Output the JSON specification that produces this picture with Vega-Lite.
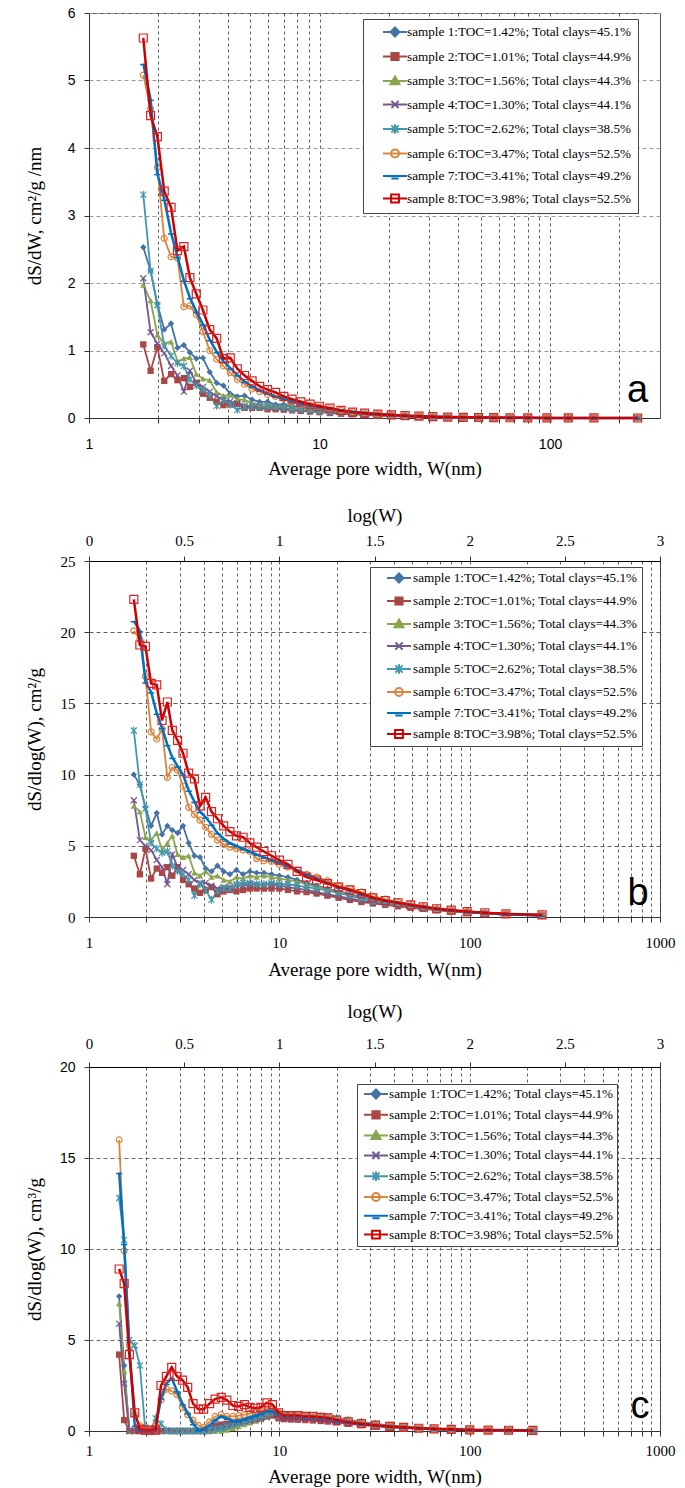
{
"$schema": "https://vega.github.io/schema/vega-lite/v6.json",
"padding": {"left": 24, "top": 5, "right": 20, "bottom": 0},
"spacing": 26,
"config": {
  "view": {"stroke": "#555"},
  "axis": {"labelColor": "#000", "titleColor": "#000", "titleFontWeight": "normal", "domainColor": "#333", "tickColor": "#333", "titleFont": "Liberation Serif", "titleFontSize": 19, "labelFont": "Liberation Serif", "labelFontSize": 15}
},
"datasets": {
"a": [
{"w":1.72,"s1":2.53,"s2":1.09,"s3":1.97,"s4":2.07,"s5":3.31,"s6":5.08,"s7":5.25,"s8":5.63},
{"w":1.85,"s1":2.18,"s2":0.70,"s3":1.74,"s4":1.27,"s5":2.18,"s6":4.58,"s7":4.72,"s8":4.48},
{"w":1.98,"s1":1.69,"s2":1.05,"s3":1.23,"s4":1.10,"s5":1.67,"s6":3.71,"s7":3.62,"s8":4.17},
{"w":2.12,"s1":1.31,"s2":0.55,"s3":1.11,"s4":0.96,"s5":1.07,"s6":2.66,"s7":3.24,"s8":3.36},
{"w":2.27,"s1":1.40,"s2":0.65,"s3":1.13,"s4":0.77,"s5":0.92,"s6":2.39,"s7":2.74,"s8":3.12},
{"w":2.42,"s1":1.04,"s2":0.56,"s3":0.84,"s4":0.63,"s5":0.81,"s6":2.37,"s7":2.39,"s8":2.48},
{"w":2.58,"s1":1.08,"s2":0.59,"s3":0.88,"s4":0.39,"s5":0.77,"s6":1.65,"s7":2.04,"s8":2.54},
{"w":2.74,"s1":0.97,"s2":0.46,"s3":0.90,"s4":0.70,"s5":0.57,"s6":1.66,"s7":1.78,"s8":2.08},
{"w":2.92,"s1":0.88,"s2":0.52,"s3":0.65,"s4":0.52,"s5":0.48,"s6":1.53,"s7":1.58,"s8":1.84},
{"w":3.12,"s1":0.89,"s2":0.36,"s3":0.58,"s4":0.46,"s5":0.42,"s6":1.28,"s7":1.39,"s8":1.60},
{"w":3.34,"s1":0.68,"s2":0.30,"s3":0.56,"s4":0.39,"s5":0.34,"s6":1.00,"s7":1.16,"s8":1.31},
{"w":3.58,"s1":0.52,"s2":0.24,"s3":0.38,"s4":0.32,"s5":0.18,"s6":0.87,"s7":0.98,"s8":1.18},
{"w":3.83,"s1":0.48,"s2":0.19,"s3":0.33,"s4":0.27,"s5":0.26,"s6":0.77,"s7":0.84,"s8":0.88},
{"w":4.1,"s1":0.36,"s2":0.20,"s3":0.34,"s4":0.25,"s5":0.20,"s6":0.67,"s7":0.74,"s8":0.89},
{"w":4.4,"s1":0.32,"s2":0.21,"s3":0.28,"s4":0.22,"s5":0.12,"s6":0.57,"s7":0.64,"s8":0.73},
{"w":4.73,"s1":0.33,"s2":0.15,"s3":0.27,"s4":0.18,"s5":0.165,"s6":0.50,"s7":0.54,"s8":0.63},
{"w":5.1,"s1":0.27,"s2":0.15,"s3":0.22,"s4":0.18,"s5":0.17,"s6":0.43,"s7":0.47,"s8":0.55},
{"w":5.5,"s1":0.24,"s2":0.15,"s3":0.20,"s4":0.17,"s5":0.16,"s6":0.39,"s7":0.41,"s8":0.47},
{"w":5.95,"s1":0.24,"s2":0.13,"s3":0.20,"s4":0.16,"s5":0.17,"s6":0.35,"s7":0.365,"s8":0.42},
{"w":6.45,"s1":0.20,"s2":0.13,"s3":0.18,"s4":0.15,"s5":0.16,"s6":0.32,"s7":0.32,"s8":0.38},
{"w":7.0,"s1":0.20,"s2":0.124,"s3":0.18,"s4":0.14,"s5":0.15,"s6":0.285,"s7":0.285,"s8":0.32},
{"w":7.6,"s1":0.18,"s2":0.114,"s3":0.16,"s4":0.13,"s5":0.13,"s6":0.234,"s7":0.25,"s8":0.28},
{"w":8.3,"s1":0.16,"s2":0.105,"s3":0.15,"s4":0.12,"s5":0.12,"s6":0.207,"s7":0.22,"s8":0.24},
{"w":9.1,"s1":0.143,"s2":0.095,"s3":0.134,"s4":0.11,"s5":0.115,"s6":0.186,"s7":0.19,"s8":0.205},
{"w":10,"s1":0.126,"s2":0.087,"s3":0.117,"s4":0.095,"s5":0.10,"s6":0.161,"s7":0.165,"s8":0.174},
{"w":11.1,"s1":0.11,"s2":0.074,"s3":0.102,"s4":0.082,"s5":0.09,"s6":0.137,"s7":0.141,"s8":0.145},
{"w":12.4,"s1":0.091,"s2":0.063,"s3":0.088,"s4":0.07,"s5":0.077,"s6":0.116,"s7":0.116,"s8":0.112},
{"w":13.9,"s1":0.075,"s2":0.055,"s3":0.072,"s4":0.059,"s5":0.066,"s6":0.094,"s7":0.094,"s8":0.087},
{"w":15.7,"s1":0.061,"s2":0.046,"s3":0.058,"s4":0.048,"s5":0.055,"s6":0.078,"s7":0.075,"s8":0.072},
{"w":17.9,"s1":0.049,"s2":0.036,"s3":0.047,"s4":0.039,"s5":0.045,"s6":0.062,"s7":0.058,"s8":0.057},
{"w":20.5,"s1":0.038,"s2":0.029,"s3":0.037,"s4":0.031,"s5":0.036,"s6":0.047,"s7":0.045,"s8":0.045},
{"w":23.5,"s1":0.030,"s2":0.022,"s3":0.029,"s4":0.024,"s5":0.028,"s6":0.037,"s7":0.035,"s8":0.035},
{"w":27,"s1":0.023,"s2":0.017,"s3":0.022,"s4":0.019,"s5":0.021,"s6":0.028,"s7":0.026,"s8":0.027},
{"w":31,"s1":0.017,"s2":0.013,"s3":0.016,"s4":0.014,"s5":0.015,"s6":0.020,"s7":0.019,"s8":0.019},
{"w":36,"s1":0.013,"s2":0.010,"s3":0.012,"s4":0.011,"s5":0.011,"s6":0.015,"s7":0.014,"s8":0.014},
{"w":42,"s1":0.0098,"s2":0.0078,"s3":0.0093,"s4":0.0083,"s5":0.0088,"s6":0.011,"s7":0.010,"s8":0.010},
{"w":49,"s1":0.0075,"s2":0.0058,"s3":0.0071,"s4":0.0062,"s5":0.0066,"s6":0.008,"s7":0.0075,"s8":0.0075},
{"w":57,"s1":0.0053,"s2":0.0043,"s3":0.0051,"s4":0.0046,"s5":0.0048,"s6":0.0057,"s7":0.0053,"s8":0.0055},
{"w":67,"s1":0.0038,"s2":0.0031,"s3":0.0036,"s4":0.0032,"s5":0.0034,"s6":0.0039,"s7":0.0037,"s8":0.0038},
{"w":80,"s1":0.0026,"s2":0.0022,"s3":0.0024,"s4":0.0022,"s5":0.0023,"s6":0.0027,"s7":0.0025,"s8":0.0026},
{"w":97,"s1":0.0017,"s2":0.0014,"s3":0.0016,"s4":0.0014,"s5":0.0015,"s6":0.0018,"s7":0.0016,"s8":0.0017},
{"w":120,"s1":0.001,"s2":0.0009,"s3":0.001,"s4":0.0009,"s5":0.0009,"s6":0.0011,"s7":0.001,"s8":0.0011},
{"w":155,"s1":0.0006,"s2":0.0004,"s3":0.0005,"s4":0.0005,"s5":0.0005,"s6":0.0006,"s7":0.0006,"s8":0.0006},
{"w":240,"s1":0.0002,"s2":0.0002,"s3":0.0002,"s4":0.0002,"s5":0.0002,"s6":0.0003,"s7":0.0002,"s8":0.0003}
],
"b": [
{"w":1.72,"s1":10.0,"s2":4.3,"s3":7.8,"s4":8.2,"s5":13.1,"s6":20.1,"s7":20.8,"s8":22.3},
{"w":1.85,"s1":9.3,"s2":3.0,"s3":7.4,"s4":5.4,"s5":9.3,"s6":19.5,"s7":20.1,"s8":19.1},
{"w":1.98,"s1":7.7,"s2":4.8,"s3":5.6,"s4":5.0,"s5":7.6,"s6":16.9,"s7":16.5,"s8":19.0},
{"w":2.12,"s1":6.4,"s2":2.7,"s3":5.4,"s4":4.7,"s5":5.2,"s6":13.0,"s7":15.8,"s8":16.4},
{"w":2.27,"s1":7.3,"s2":3.4,"s3":5.9,"s4":4.0,"s5":4.8,"s6":12.5,"s7":14.3,"s8":16.3},
{"w":2.42,"s1":5.8,"s2":3.1,"s3":4.7,"s4":3.5,"s5":4.5,"s6":13.2,"s7":13.3,"s8":13.8},
{"w":2.58,"s1":6.4,"s2":3.5,"s3":5.2,"s4":2.3,"s5":4.6,"s6":9.8,"s7":12.1,"s8":15.1},
{"w":2.74,"s1":6.1,"s2":2.9,"s3":5.7,"s4":4.4,"s5":3.6,"s6":10.5,"s7":11.2,"s8":13.1},
{"w":2.92,"s1":5.9,"s2":3.5,"s3":4.4,"s4":3.5,"s5":3.2,"s6":10.3,"s7":10.6,"s8":12.4},
{"w":3.12,"s1":6.4,"s2":2.6,"s3":4.2,"s4":3.3,"s5":3.0,"s6":9.2,"s7":10.0,"s8":11.5},
{"w":3.34,"s1":5.2,"s2":2.3,"s3":4.3,"s4":3.0,"s5":2.6,"s6":7.7,"s7":8.9,"s8":10.1},
{"w":3.58,"s1":4.3,"s2":2.0,"s3":3.1,"s4":2.6,"s5":1.5,"s6":7.2,"s7":8.1,"s8":9.7},
{"w":3.83,"s1":4.2,"s2":1.7,"s3":2.9,"s4":2.4,"s5":2.3,"s6":6.8,"s7":7.4,"s8":7.8},
{"w":4.1,"s1":3.4,"s2":1.9,"s3":3.2,"s4":2.4,"s5":1.9,"s6":6.3,"s7":7.0,"s8":8.4},
{"w":4.4,"s1":3.2,"s2":2.1,"s3":2.8,"s4":2.2,"s5":1.2,"s6":5.8,"s7":6.5,"s8":7.4},
{"w":4.73,"s1":3.6,"s2":1.6,"s3":2.9,"s4":2.0,"s5":1.8,"s6":5.4,"s7":5.9,"s8":6.9},
{"w":5.1,"s1":3.2,"s2":1.8,"s3":2.6,"s4":2.1,"s5":2.0,"s6":5.1,"s7":5.5,"s8":6.4},
{"w":5.5,"s1":3.0,"s2":1.9,"s3":2.5,"s4":2.1,"s5":2.0,"s6":4.9,"s7":5.2,"s8":6.0},
{"w":5.95,"s1":3.3,"s2":1.8,"s3":2.8,"s4":2.2,"s5":2.3,"s6":4.8,"s7":5.0,"s8":5.7},
{"w":6.45,"s1":3.0,"s2":1.9,"s3":2.7,"s4":2.2,"s5":2.4,"s6":4.7,"s7":4.8,"s8":5.6},
{"w":7.0,"s1":3.2,"s2":2.0,"s3":2.9,"s4":2.3,"s5":2.4,"s6":4.6,"s7":4.6,"s8":5.2},
{"w":7.6,"s1":3.1,"s2":2.0,"s3":2.8,"s4":2.3,"s5":2.3,"s6":4.1,"s7":4.4,"s8":4.9},
{"w":8.3,"s1":3.1,"s2":2.0,"s3":2.9,"s4":2.3,"s5":2.3,"s6":3.95,"s7":4.2,"s8":4.6},
{"w":9.1,"s1":3.0,"s2":2.0,"s3":2.8,"s4":2.3,"s5":2.4,"s6":3.9,"s7":4.0,"s8":4.3},
{"w":10,"s1":2.9,"s2":2.0,"s3":2.7,"s4":2.2,"s5":2.3,"s6":3.7,"s7":3.8,"s8":4.0},
{"w":11.1,"s1":2.8,"s2":1.9,"s3":2.6,"s4":2.1,"s5":2.3,"s6":3.5,"s7":3.6,"s8":3.7},
{"w":12.4,"s1":2.6,"s2":1.8,"s3":2.5,"s4":2.0,"s5":2.2,"s6":3.3,"s7":3.3,"s8":3.2},
{"w":13.9,"s1":2.4,"s2":1.75,"s3":2.3,"s4":1.9,"s5":2.1,"s6":3.0,"s7":3.0,"s8":2.8},
{"w":15.7,"s1":2.2,"s2":1.65,"s3":2.1,"s4":1.75,"s5":2.0,"s6":2.8,"s7":2.7,"s8":2.6},
{"w":17.9,"s1":2.0,"s2":1.5,"s3":1.95,"s4":1.6,"s5":1.85,"s6":2.55,"s7":2.4,"s8":2.35},
{"w":20.5,"s1":1.8,"s2":1.35,"s3":1.75,"s4":1.45,"s5":1.7,"s6":2.2,"s7":2.1,"s8":2.1},
{"w":23.5,"s1":1.6,"s2":1.2,"s3":1.55,"s4":1.3,"s5":1.5,"s6":2.0,"s7":1.9,"s8":1.9},
{"w":27,"s1":1.4,"s2":1.05,"s3":1.35,"s4":1.15,"s5":1.3,"s6":1.75,"s7":1.6,"s8":1.65},
{"w":31,"s1":1.2,"s2":0.95,"s3":1.15,"s4":1.0,"s5":1.1,"s6":1.45,"s7":1.35,"s8":1.35},
{"w":36,"s1":1.05,"s2":0.85,"s3":1.0,"s4":0.9,"s5":0.95,"s6":1.25,"s7":1.15,"s8":1.15},
{"w":42,"s1":0.95,"s2":0.75,"s3":0.9,"s4":0.8,"s5":0.85,"s6":1.05,"s7":1.0,"s8":1.0},
{"w":49,"s1":0.85,"s2":0.65,"s3":0.8,"s4":0.7,"s5":0.75,"s6":0.9,"s7":0.85,"s8":0.85},
{"w":57,"s1":0.7,"s2":0.57,"s3":0.67,"s4":0.6,"s5":0.63,"s6":0.75,"s7":0.7,"s8":0.72},
{"w":67,"s1":0.58,"s2":0.48,"s3":0.55,"s4":0.5,"s5":0.52,"s6":0.6,"s7":0.57,"s8":0.58},
{"w":80,"s1":0.47,"s2":0.4,"s3":0.45,"s4":0.4,"s5":0.42,"s6":0.5,"s7":0.46,"s8":0.48},
{"w":97,"s1":0.37,"s2":0.32,"s3":0.35,"s4":0.32,"s5":0.33,"s6":0.4,"s7":0.36,"s8":0.38},
{"w":120,"s1":0.28,"s2":0.25,"s3":0.27,"s4":0.25,"s5":0.25,"s6":0.3,"s7":0.28,"s8":0.3},
{"w":155,"s1":0.2,"s2":0.15,"s3":0.18,"s4":0.17,"s5":0.18,"s6":0.22,"s7":0.2,"s8":0.22},
{"w":240,"s1":0.1,"s2":0.1,"s3":0.1,"s4":0.1,"s5":0.1,"s6":0.14,"s7":0.12,"s8":0.15}
],
"c": [
{"w":1.44,"s1":7.4,"s2":4.2,"s3":7.0,"s4":5.9,"s5":12.8,"s6":16.0,"s7":14.2,"s8":8.9},
{"w":1.53,"s1":3.6,"s2":0.6,"s3":3.3,"s4":2.6,"s5":10.5,"s6":9.9,"s7":10.3,"s8":8.1},
{"w":1.63,"s1":0,"s2":0,"s3":0,"s4":0,"s5":5.0,"s6":4.7,"s7":4.5,"s8":4.2},
{"w":1.74,"s1":0,"s2":0,"s3":0,"s4":0,"s5":4.7,"s6":0.9,"s7":0.3,"s8":1.0},
{"w":1.85,"s1":0,"s2":0,"s3":0,"s4":0,"s5":3.6,"s6":0.3,"s7":0,"s8":0.1},
{"w":1.97,"s1":0,"s2":0,"s3":0,"s4":0,"s5":0.2,"s6":0,"s7":0,"s8":0.05},
{"w":2.1,"s1":0,"s2":0,"s3":0,"s4":0,"s5":0,"s6":0,"s7":0,"s8":0.05},
{"w":2.24,"s1":0,"s2":0,"s3":0,"s4":0,"s5":0.7,"s6":0.3,"s7":0.2,"s8":0.05},
{"w":2.39,"s1":0,"s2":0,"s3":0,"s4":0,"s5":0.4,"s6":1.7,"s7":1.8,"s8":2.5},
{"w":2.55,"s1":0,"s2":0,"s3":0,"s4":0,"s5":0.05,"s6":2.3,"s7":2.6,"s8":3.0},
{"w":2.72,"s1":0,"s2":0,"s3":0,"s4":0,"s5":0,"s6":2.2,"s7":2.9,"s8":3.5},
{"w":2.9,"s1":0,"s2":0,"s3":0,"s4":0,"s5":0,"s6":2.0,"s7":2.2,"s8":3.0},
{"w":3.1,"s1":0,"s2":0,"s3":0,"s4":0,"s5":0,"s6":1.3,"s7":1.5,"s8":2.8},
{"w":3.3,"s1":0,"s2":0,"s3":0,"s4":0,"s5":0,"s6":0.9,"s7":1.0,"s8":2.4},
{"w":3.52,"s1":0,"s2":0,"s3":0,"s4":0,"s5":0,"s6":0.6,"s7":0.4,"s8":1.5},
{"w":3.76,"s1":0,"s2":0,"s3":0,"s4":0,"s5":0,"s6":0.3,"s7":0.05,"s8":1.2},
{"w":4.0,"s1":0,"s2":0,"s3":0,"s4":0,"s5":0,"s6":0.2,"s7":0.1,"s8":1.2},
{"w":4.3,"s1":0,"s2":0,"s3":0,"s4":0.05,"s5":0.05,"s6":0.5,"s7":0.3,"s8":1.5},
{"w":4.6,"s1":0,"s2":0.3,"s3":0,"s4":0.15,"s5":0.1,"s6":0.8,"s7":0.6,"s8":1.75},
{"w":4.95,"s1":0.05,"s2":0.35,"s3":0,"s4":0.3,"s5":0.15,"s6":0.9,"s7":0.8,"s8":1.85},
{"w":5.3,"s1":0.15,"s2":0.4,"s3":0.05,"s4":0.35,"s5":0.25,"s6":0.8,"s7":0.7,"s8":1.7},
{"w":5.7,"s1":0.25,"s2":0.45,"s3":0.15,"s4":0.4,"s5":0.35,"s6":0.8,"s7":0.55,"s8":1.4},
{"w":6.1,"s1":0.35,"s2":0.5,"s3":0.25,"s4":0.45,"s5":0.45,"s6":0.85,"s7":0.55,"s8":1.35},
{"w":6.55,"s1":0.45,"s2":0.55,"s3":0.35,"s4":0.5,"s5":0.55,"s6":0.9,"s7":0.65,"s8":1.45},
{"w":7.0,"s1":0.55,"s2":0.6,"s3":0.45,"s4":0.55,"s5":0.65,"s6":0.95,"s7":0.75,"s8":1.3},
{"w":7.5,"s1":0.65,"s2":0.65,"s3":0.55,"s4":0.6,"s5":0.75,"s6":1.0,"s7":0.85,"s8":1.25},
{"w":8.0,"s1":0.75,"s2":0.7,"s3":0.65,"s4":0.65,"s5":0.85,"s6":1.1,"s7":0.95,"s8":1.3},
{"w":8.6,"s1":0.9,"s2":0.8,"s3":0.8,"s4":0.75,"s5":1.0,"s6":1.2,"s7":1.1,"s8":1.55},
{"w":9.2,"s1":0.95,"s2":0.85,"s3":0.9,"s4":0.85,"s5":1.05,"s6":1.25,"s7":1.1,"s8":1.45},
{"w":9.9,"s1":0.85,"s2":0.7,"s3":0.8,"s4":0.75,"s5":0.95,"s6":1.0,"s7":0.85,"s8":1.0},
{"w":10.6,"s1":0.8,"s2":0.65,"s3":0.75,"s4":0.7,"s5":0.9,"s6":0.9,"s7":0.75,"s8":0.85},
{"w":11.5,"s1":0.78,"s2":0.63,"s3":0.74,"s4":0.68,"s5":0.88,"s6":0.85,"s7":0.72,"s8":0.85},
{"w":12.5,"s1":0.76,"s2":0.62,"s3":0.73,"s4":0.66,"s5":0.87,"s6":0.85,"s7":0.7,"s8":0.85},
{"w":13.7,"s1":0.74,"s2":0.6,"s3":0.72,"s4":0.64,"s5":0.85,"s6":0.8,"s7":0.68,"s8":0.8},
{"w":15,"s1":0.72,"s2":0.58,"s3":0.7,"s4":0.62,"s5":0.82,"s6":0.78,"s7":0.65,"s8":0.8},
{"w":16.5,"s1":0.7,"s2":0.55,"s3":0.68,"s4":0.6,"s5":0.8,"s6":0.75,"s7":0.62,"s8":0.75},
{"w":18,"s1":0.68,"s2":0.52,"s3":0.66,"s4":0.58,"s5":0.78,"s6":0.72,"s7":0.6,"s8":0.72},
{"w":20,"s1":0.6,"s2":0.47,"s3":0.6,"s4":0.52,"s5":0.72,"s6":0.62,"s7":0.52,"s8":0.6},
{"w":23,"s1":0.52,"s2":0.4,"s3":0.52,"s4":0.45,"s5":0.62,"s6":0.52,"s7":0.45,"s8":0.5},
{"w":27,"s1":0.42,"s2":0.33,"s3":0.42,"s4":0.37,"s5":0.5,"s6":0.42,"s7":0.37,"s8":0.4},
{"w":32,"s1":0.34,"s2":0.27,"s3":0.34,"s4":0.3,"s5":0.4,"s6":0.34,"s7":0.3,"s8":0.32},
{"w":38,"s1":0.27,"s2":0.22,"s3":0.27,"s4":0.24,"s5":0.3,"s6":0.27,"s7":0.24,"s8":0.25},
{"w":45,"s1":0.21,"s2":0.17,"s3":0.21,"s4":0.19,"s5":0.23,"s6":0.21,"s7":0.19,"s8":0.2},
{"w":54,"s1":0.16,"s2":0.13,"s3":0.16,"s4":0.15,"s5":0.17,"s6":0.16,"s7":0.15,"s8":0.15},
{"w":65,"s1":0.12,"s2":0.1,"s3":0.12,"s4":0.11,"s5":0.13,"s6":0.12,"s7":0.11,"s8":0.12},
{"w":80,"s1":0.09,"s2":0.07,"s3":0.09,"s4":0.08,"s5":0.1,"s6":0.09,"s7":0.08,"s8":0.09},
{"w":100,"s1":0.06,"s2":0.05,"s3":0.06,"s4":0.06,"s5":0.07,"s6":0.07,"s7":0.06,"s8":0.06},
{"w":125,"s1":0.045,"s2":0.04,"s3":0.045,"s4":0.04,"s5":0.05,"s6":0.05,"s7":0.04,"s8":0.05},
{"w":160,"s1":0.03,"s2":0.03,"s3":0.03,"s4":0.03,"s5":0.03,"s6":0.04,"s7":0.03,"s8":0.04},
{"w":215,"s1":0.02,"s2":0.02,"s3":0.02,"s4":0.02,"s5":0.02,"s6":0.03,"s7":0.02,"s8":0.03}
]
},
"vconcat": [
{
  "width": 571, "height": 405,
  "data": {"name": "a"},
  "transform": [{"fold": ["s1","s2","s3","s4","s5","s6","s7","s8"], "as": ["s","v"]}],
  "encoding": {
    "x": {"field": "w", "type": "quantitative", "scale": {"type": "log", "domain": [1, 300], "nice": false},
      "axis": {"orient": "bottom", "values": [1,2,3,4,5,6,7,8,9,10,20,30,40,50,60,70,80,90,100,200], "labelExpr": "(datum.value==1||datum.value==10||datum.value==100||datum.value==1000) ? format(datum.value,'d') : ''", "labelOverlap": false, "labelFlush": false, "labelFont": "Liberation Sans", "labelFontSize": 14, "grid": true, "gridDash": [3,3], "gridColor": "#333", "gridWidth": 0.8, "tickSize": 5, "labelPadding": 14, "title": "Average pore width, W(nm)", "titlePadding": 8}},
    "y": {"field": "v", "type": "quantitative", "scale": {"domain": [0, 6], "nice": false},
      "axis": {"values": [0,1,2,3,4,5,6], "grid": true, "gridDash": [4,3], "gridColor": "#999", "tickSize": 5, "labelPadding": 9, "labelFont": "Liberation Sans", "labelFontSize": 14, "minExtent": 30, "maxExtent": 30, "title": "dS/dW, cm²/g /nm", "titlePadding": 15}}
  },
  "layer": [
    {"transform": [{"filter": "indexof(['s1','s2','s3','s4','s5','s6'], datum.s) >= 0"}],
     "mark": {"type": "line", "strokeWidth": 1.8},
     "encoding": {"color": {"field": "s", "type": "nominal", "scale": {"domain": ["s1","s2","s3","s4","s5","s6"], "range": ["#4572A7","#AA4643","#89A54E","#71588F","#4198AF","#DB843D"]}, "legend": null}}},
    {"transform": [{"filter": "indexof(['s1','s2','s3'], datum.s) >= 0"}],
     "mark": {"type": "point", "filled": true, "size": 40, "opacity": 1},
     "encoding": {"color": {"field": "s", "type": "nominal", "scale": {"domain": ["s1","s2","s3"], "range": ["#4572A7","#AA4643","#89A54E"]}, "legend": null},
       "shape": {"field": "s", "type": "nominal", "scale": {"domain": ["s1","s2","s3"], "range": ["diamond","square","triangle-up"]}, "legend": null}}},
    {"transform": [{"filter": "indexof(['s4','s5','s6'], datum.s) >= 0"}],
     "mark": {"type": "point", "filled": false, "size": 36, "strokeWidth": 1.2, "opacity": 1},
     "encoding": {"color": {"field": "s", "type": "nominal", "scale": {"domain": ["s4","s5","s6"], "range": ["#71588F","#4198AF","#DB843D"]}, "legend": null},
       "shape": {"field": "s", "type": "nominal", "scale": {"domain": ["s4","s5","s6"], "range": ["M-1,-1L1,1M-1,1L1,-1","M-1,-1L1,1M-1,1L1,-1M0,-1.3L0,1.3","circle"]}, "legend": null}}},
    {"transform": [{"filter": "datum.s == 's7'"}], "mark": {"type": "line", "strokeWidth": 2.5, "color": "#0070C0"}},
    {"transform": [{"filter": "datum.s == 's7'"}], "mark": {"type": "point", "filled": false, "size": 40, "strokeWidth": 1.5, "opacity": 1, "color": "#0070C0", "shape": "M-1,0.3H1"}},
    {"transform": [{"filter": "datum.s == 's8'"}], "mark": {"type": "line", "strokeWidth": 2.5, "color": "#CC0000"}},
    {"transform": [{"filter": "datum.s == 's8'"}], "mark": {"type": "point", "filled": false, "size": 64, "strokeWidth": 1.2, "opacity": 1, "color": "#DD2222", "shape": "square"}},
    {"transform": [{"filter": "datum.v < -1"}],
     "mark": {"type": "point", "opacity": 1, "strokeWidth": 2, "filled": true},
     "encoding": {
       "fill": {"field": "s", "type": "nominal", "scale": {"domain": ["s1","s2","s3","s4","s5","s6","s7","s8"], "range": ["#4572A7","#AA4643","#89A54E","#71588F","#4198AF","#FFFFFF","#0070C0","#FFFFFF"]},
         "legend": {"orient": "none", "legendX": 274, "legendY": 6, "title": null, "labelExpr": "(datum.value=='s1'?'sample 1:TOC=1.42%; Total clays=45.1%':datum.value=='s2'?'sample 2:TOC=1.01%; Total clays=44.9%':datum.value=='s3'?'sample 3:TOC=1.56%; Total clays=44.3%':datum.value=='s4'?'sample 4:TOC=1.30%; Total clays=44.1%':datum.value=='s5'?'sample 5:TOC=2.62%; Total clays=38.5%':datum.value=='s6'?'sample 6:TOC=3.47%; Total clays=52.5%':datum.value=='s7'?'sample 7:TOC=3.41%; Total clays=49.2%':'sample 8:TOC=3.98%; Total clays=52.5%') + '\u00a0\u00a0\u00a0\u00a0\u00a0\u00a0\u00a0'", "labelFont": "Liberation Serif", "labelFontSize": 13.2, "labelColor": "#000", "labelLimit": 400, "symbolSize": 144, "symbolStrokeWidth": 2, "symbolOffset": 19, "labelOffset": 5, "padding": 6, "rowPadding": 7.5, "strokeColor": "#444", "fillColor": "#FFFFFF"}},
       "stroke": {"field": "s", "type": "nominal", "scale": {"domain": ["s1","s2","s3","s4","s5","s6","s7","s8"], "range": ["#4572A7","#AA4643","#89A54E","#71588F","#4198AF","#DB843D","#0070C0","#CC0000"]},
         "legend": {"orient": "none", "legendX": 274, "legendY": 6, "title": null}},
       "shape": {"field": "s", "type": "nominal", "scale": {"domain": ["s1","s2","s3","s4","s5","s6","s7","s8"], "range": ["M-2,0H2M0,-0.75L0.75,0L0,0.75L-0.75,0Z","M-2,0H2M-0.6,-0.6H0.6V0.6H-0.6Z","M-2,0H2M0,-0.75L0.75,0.55H-0.75Z","M-2,0H2M-0.6,-0.6L0.6,0.6M-0.6,0.6L0.6,-0.6","M-2,0H2M-0.6,-0.6L0.6,0.6M-0.6,0.6L0.6,-0.6M0,-0.8V0.8","M-2,0H2M0.65,0A0.65,0.65 0 1,1 -0.65,0A0.65,0.65 0 1,1 0.65,0Z","M-2,0H2M-0.6,0.4H0.6","M-2,0H2M-0.65,-0.65H0.65V0.65H-0.65Z"]},
         "legend": {"orient": "none", "legendX": 274, "legendY": 6, "title": null}}
     }},
    {"transform": [{"filter": "datum.s == 's1' && datum.w == 240"}],
     "mark": {"type": "text", "text": "a", "font": "Liberation Sans", "fontSize": 38, "align": "center", "baseline": "middle", "color": "#000"},
     "encoding": {"x": {"datum": 240}, "y": {"datum": 0.4}}}
  ],
  "resolve": {"scale": {"color": "independent", "shape": "independent", "fill": "independent", "stroke": "independent"}}
},
{
 "spacing": 21,
 "vconcat": [
{
  "width": 571, "height": 356,
  "layer": [
    {
      "data": {"name": "b"},
      "transform": [{"fold": ["s1","s2","s3","s4","s5","s6","s7","s8"], "as": ["s","v"]}],
      "encoding": {
        "x": {"field": "w", "type": "quantitative", "scale": {"type": "log", "domain": [1, 1000], "nice": false},
          "axis": {"orient": "bottom", "values": [1,2,3,4,5,6,7,8,9,10,20,30,40,50,60,70,80,90,100,200,300,400,500,600,700,800,900,1000], "labelExpr": "(datum.value==1||datum.value==10||datum.value==100||datum.value==1000) ? format(datum.value,'d') : ''", "labelOverlap": false, "labelFlush": false, "grid": true, "gridDash": [3,3], "gridColor": "#333", "gridWidth": 0.8, "tickSize": 5, "labelPadding": 13, "title": "Average pore width, W(nm)", "titlePadding": 10}},
        "y": {"field": "v", "type": "quantitative", "scale": {"domain": [0, 25], "nice": false},
          "axis": {"values": [0,5,10,15,20,25], "grid": true, "gridDash": [4,3], "gridColor": "#333", "gridWidth": 0.8, "tickSize": 5, "labelPadding": 9, "minExtent": 30, "maxExtent": 30, "title": "dS/dlog(W), cm²/g", "titlePadding": 15}}
      },
      "layer": [
        {"transform": [{"filter": "indexof(['s1','s2','s3','s4','s5','s6'], datum.s) >= 0"}],
         "mark": {"type": "line", "strokeWidth": 1.8},
         "encoding": {"color": {"field": "s", "type": "nominal", "scale": {"domain": ["s1","s2","s3","s4","s5","s6"], "range": ["#4572A7","#AA4643","#89A54E","#71588F","#4198AF","#DB843D"]}, "legend": null}}},
        {"transform": [{"filter": "indexof(['s1','s2','s3'], datum.s) >= 0"}],
         "mark": {"type": "point", "filled": true, "size": 40, "opacity": 1},
         "encoding": {"color": {"field": "s", "type": "nominal", "scale": {"domain": ["s1","s2","s3"], "range": ["#4572A7","#AA4643","#89A54E"]}, "legend": null},
           "shape": {"field": "s", "type": "nominal", "scale": {"domain": ["s1","s2","s3"], "range": ["diamond","square","triangle-up"]}, "legend": null}}},
        {"transform": [{"filter": "indexof(['s4','s5','s6'], datum.s) >= 0"}],
         "mark": {"type": "point", "filled": false, "size": 36, "strokeWidth": 1.2, "opacity": 1},
         "encoding": {"color": {"field": "s", "type": "nominal", "scale": {"domain": ["s4","s5","s6"], "range": ["#71588F","#4198AF","#DB843D"]}, "legend": null},
           "shape": {"field": "s", "type": "nominal", "scale": {"domain": ["s4","s5","s6"], "range": ["M-1,-1L1,1M-1,1L1,-1","M-1,-1L1,1M-1,1L1,-1M0,-1.3L0,1.3","circle"]}, "legend": null}}},
        {"transform": [{"filter": "datum.s == 's7'"}], "mark": {"type": "line", "strokeWidth": 2.5, "color": "#0070C0"}},
        {"transform": [{"filter": "datum.s == 's7'"}], "mark": {"type": "point", "filled": false, "size": 40, "strokeWidth": 1.5, "opacity": 1, "color": "#0070C0", "shape": "M-1,0.3H1"}},
        {"transform": [{"filter": "datum.s == 's8'"}], "mark": {"type": "line", "strokeWidth": 2.5, "color": "#CC0000"}},
        {"transform": [{"filter": "datum.s == 's8'"}], "mark": {"type": "point", "filled": false, "size": 64, "strokeWidth": 1.2, "opacity": 1, "color": "#DD2222", "shape": "square"}},
        {"transform": [{"filter": "datum.v < -1"}],
         "mark": {"type": "point", "opacity": 1, "strokeWidth": 2, "filled": true},
         "encoding": {
           "fill": {"field": "s", "type": "nominal", "scale": {"domain": ["s1","s2","s3","s4","s5","s6","s7","s8"], "range": ["#4572A7","#AA4643","#89A54E","#71588F","#4198AF","#FFFFFF","#0070C0","#FFFFFF"]},
             "legend": {"orient": "none", "legendX": 281, "legendY": 6, "title": null, "labelExpr": "(datum.value=='s1'?'sample 1:TOC=1.42%; Total clays=45.1%':datum.value=='s2'?'sample 2:TOC=1.01%; Total clays=44.9%':datum.value=='s3'?'sample 3:TOC=1.56%; Total clays=44.3%':datum.value=='s4'?'sample 4:TOC=1.30%; Total clays=44.1%':datum.value=='s5'?'sample 5:TOC=2.62%; Total clays=38.5%':datum.value=='s6'?'sample 6:TOC=3.47%; Total clays=52.5%':datum.value=='s7'?'sample 7:TOC=3.41%; Total clays=49.2%':'sample 8:TOC=3.98%; Total clays=52.5%') + '\u00a0\u00a0\u00a0\u00a0\u00a0\u00a0'", "labelFont": "Liberation Serif", "labelFontSize": 13.2, "labelColor": "#000", "labelLimit": 400, "symbolSize": 144, "symbolStrokeWidth": 2, "symbolOffset": 18, "labelOffset": 7, "padding": 4, "rowPadding": 6, "strokeColor": "#444", "fillColor": "#FFFFFF"}},
           "stroke": {"field": "s", "type": "nominal", "scale": {"domain": ["s1","s2","s3","s4","s5","s6","s7","s8"], "range": ["#4572A7","#AA4643","#89A54E","#71588F","#4198AF","#DB843D","#0070C0","#CC0000"]},
             "legend": {"orient": "none", "legendX": 281, "legendY": 6, "title": null}},
           "shape": {"field": "s", "type": "nominal", "scale": {"domain": ["s1","s2","s3","s4","s5","s6","s7","s8"], "range": ["M-2,0H2M0,-0.75L0.75,0L0,0.75L-0.75,0Z","M-2,0H2M-0.6,-0.6H0.6V0.6H-0.6Z","M-2,0H2M0,-0.75L0.75,0.55H-0.75Z","M-2,0H2M-0.6,-0.6L0.6,0.6M-0.6,0.6L0.6,-0.6","M-2,0H2M-0.6,-0.6L0.6,0.6M-0.6,0.6L0.6,-0.6M0,-0.8V0.8","M-2,0H2M0.65,0A0.65,0.65 0 1,1 -0.65,0A0.65,0.65 0 1,1 0.65,0Z","M-2,0H2M-0.6,0.4H0.6","M-2,0H2M-0.65,-0.65H0.65V0.65H-0.65Z"]},
             "legend": {"orient": "none", "legendX": 281, "legendY": 6, "title": null}}
         }},
        {"transform": [{"filter": "datum.s == 's1' && datum.w == 240"}],
         "mark": {"type": "text", "text": "b", "font": "Liberation Sans", "fontSize": 38, "align": "center", "baseline": "middle", "color": "#000"},
         "encoding": {"x": {"datum": 766}, "y": {"datum": 1.6}}}
      ],
      "resolve": {"scale": {"color": "independent", "shape": "independent", "fill": "independent", "stroke": "independent"}}
    },
    {
      "data": {"values": [{"t": 0}, {"t": 3}]},
      "mark": {"type": "point", "opacity": 0},
      "encoding": {"x": {"field": "t", "type": "quantitative", "scale": {"domain": [0, 3], "nice": false, "zero": false},
        "axis": {"orient": "top", "values": [0,0.5,1,1.5,2,2.5,3], "format": "~g", "grid": false, "domainColor": "#000", "tickSize": 5, "labelPadding": 8, "labelFlush": false, "title": "log(W)", "titlePadding": 8}}}
    }
  ],
  "resolve": {"scale": {"x": "independent"}}
},
{
  "width": 571, "height": 364,
  "layer": [
    {
      "data": {"name": "c"},
      "transform": [{"fold": ["s1","s2","s3","s4","s5","s6","s7","s8"], "as": ["s","v"]}],
      "encoding": {
        "x": {"field": "w", "type": "quantitative", "scale": {"type": "log", "domain": [1, 1000], "nice": false},
          "axis": {"orient": "bottom", "values": [1,2,3,4,5,6,7,8,9,10,20,30,40,50,60,70,80,90,100,200,300,400,500,600,700,800,900,1000], "labelExpr": "(datum.value==1||datum.value==10||datum.value==100||datum.value==1000) ? format(datum.value,'d') : ''", "labelOverlap": false, "labelFlush": false, "grid": true, "gridDash": [3,3], "gridColor": "#333", "gridWidth": 0.8, "tickSize": 5, "labelPadding": 7, "title": "Average pore width, W(nm)", "titlePadding": 9}},
        "y": {"field": "v", "type": "quantitative", "scale": {"domain": [0, 20], "nice": false},
          "axis": {"values": [0,5,10,15,20], "grid": true, "gridDash": [4,3], "gridColor": "#444", "gridWidth": 0.8, "tickSize": 5, "labelPadding": 9, "labelFont": "Liberation Sans", "labelFontSize": 14, "minExtent": 30, "maxExtent": 30, "title": "dS/dlog(W), cm³/g", "titlePadding": 15}}
      },
      "layer": [
        {"transform": [{"filter": "indexof(['s1','s2','s3','s4','s5','s6'], datum.s) >= 0"}],
         "mark": {"type": "line", "strokeWidth": 1.8},
         "encoding": {"color": {"field": "s", "type": "nominal", "scale": {"domain": ["s1","s2","s3","s4","s5","s6"], "range": ["#4572A7","#AA4643","#89A54E","#71588F","#4198AF","#DB843D"]}, "legend": null}}},
        {"transform": [{"filter": "indexof(['s1','s2','s3'], datum.s) >= 0"}],
         "mark": {"type": "point", "filled": true, "size": 40, "opacity": 1},
         "encoding": {"color": {"field": "s", "type": "nominal", "scale": {"domain": ["s1","s2","s3"], "range": ["#4572A7","#AA4643","#89A54E"]}, "legend": null},
           "shape": {"field": "s", "type": "nominal", "scale": {"domain": ["s1","s2","s3"], "range": ["diamond","square","triangle-up"]}, "legend": null}}},
        {"transform": [{"filter": "indexof(['s4','s5','s6'], datum.s) >= 0"}],
         "mark": {"type": "point", "filled": false, "size": 36, "strokeWidth": 1.2, "opacity": 1},
         "encoding": {"color": {"field": "s", "type": "nominal", "scale": {"domain": ["s4","s5","s6"], "range": ["#71588F","#4198AF","#DB843D"]}, "legend": null},
           "shape": {"field": "s", "type": "nominal", "scale": {"domain": ["s4","s5","s6"], "range": ["M-1,-1L1,1M-1,1L1,-1","M-1,-1L1,1M-1,1L1,-1M0,-1.3L0,1.3","circle"]}, "legend": null}}},
        {"transform": [{"filter": "datum.s == 's7'"}], "mark": {"type": "line", "strokeWidth": 2.5, "color": "#0070C0"}},
        {"transform": [{"filter": "datum.s == 's7'"}], "mark": {"type": "point", "filled": false, "size": 40, "strokeWidth": 1.5, "opacity": 1, "color": "#0070C0", "shape": "M-1,0.3H1"}},
        {"transform": [{"filter": "datum.s == 's8'"}], "mark": {"type": "line", "strokeWidth": 2.5, "color": "#CC0000"}},
        {"transform": [{"filter": "datum.s == 's8'"}], "mark": {"type": "point", "filled": false, "size": 64, "strokeWidth": 1.2, "opacity": 1, "color": "#DD2222", "shape": "square"}},
        {"transform": [{"filter": "datum.v < -1"}],
         "mark": {"type": "point", "opacity": 1, "strokeWidth": 2, "filled": true},
         "encoding": {
           "fill": {"field": "s", "type": "nominal", "scale": {"domain": ["s1","s2","s3","s4","s5","s6","s7","s8"], "range": ["#4572A7","#AA4643","#89A54E","#71588F","#4198AF","#FFFFFF","#0070C0","#FFFFFF"]},
             "legend": {"orient": "none", "legendX": 268, "legendY": 17, "title": null, "labelExpr": "(datum.value=='s1'?'sample 1:TOC=1.42%; Total clays=45.1%':datum.value=='s2'?'sample 2:TOC=1.01%; Total clays=44.9%':datum.value=='s3'?'sample 3:TOC=1.56%; Total clays=44.3%':datum.value=='s4'?'sample 4:TOC=1.30%; Total clays=44.1%':datum.value=='s5'?'sample 5:TOC=2.62%; Total clays=38.5%':datum.value=='s6'?'sample 6:TOC=3.47%; Total clays=52.5%':datum.value=='s7'?'sample 7:TOC=3.41%; Total clays=49.2%':'sample 8:TOC=3.98%; Total clays=52.5%') + '\u00a0'", "labelFont": "Liberation Serif", "labelFontSize": 13.2, "labelColor": "#000", "labelLimit": 400, "symbolSize": 144, "symbolStrokeWidth": 2, "symbolOffset": 9, "labelOffset": 6, "padding": 3, "rowPadding": 3.8, "strokeColor": "#444", "fillColor": "#FFFFFF"}},
           "stroke": {"field": "s", "type": "nominal", "scale": {"domain": ["s1","s2","s3","s4","s5","s6","s7","s8"], "range": ["#4572A7","#AA4643","#89A54E","#71588F","#4198AF","#DB843D","#0070C0","#CC0000"]},
             "legend": {"orient": "none", "legendX": 268, "legendY": 17, "title": null}},
           "shape": {"field": "s", "type": "nominal", "scale": {"domain": ["s1","s2","s3","s4","s5","s6","s7","s8"], "range": ["M-2,0H2M0,-0.75L0.75,0L0,0.75L-0.75,0Z","M-2,0H2M-0.6,-0.6H0.6V0.6H-0.6Z","M-2,0H2M0,-0.75L0.75,0.55H-0.75Z","M-2,0H2M-0.6,-0.6L0.6,0.6M-0.6,0.6L0.6,-0.6","M-2,0H2M-0.6,-0.6L0.6,0.6M-0.6,0.6L0.6,-0.6M0,-0.8V0.8","M-2,0H2M0.65,0A0.65,0.65 0 1,1 -0.65,0A0.65,0.65 0 1,1 0.65,0Z","M-2,0H2M-0.6,0.4H0.6","M-2,0H2M-0.65,-0.65H0.65V0.65H-0.65Z"]},
             "legend": {"orient": "none", "legendX": 268, "legendY": 17, "title": null}}
         }},
        {"transform": [{"filter": "datum.s == 's1' && datum.w == 215"}],
         "mark": {"type": "text", "text": "c", "font": "Liberation Sans", "fontSize": 38, "align": "center", "baseline": "middle", "color": "#000"},
         "encoding": {"x": {"datum": 785}, "y": {"datum": 1.3}}}
      ],
      "resolve": {"scale": {"color": "independent", "shape": "independent", "fill": "independent", "stroke": "independent"}}
    },
    {
      "data": {"values": [{"t": 0}, {"t": 3}]},
      "mark": {"type": "point", "opacity": 0},
      "encoding": {"x": {"field": "t", "type": "quantitative", "scale": {"domain": [0, 3], "nice": false, "zero": false},
        "axis": {"orient": "top", "values": [0,0.5,1,1.5,2,2.5,3], "format": "~g", "grid": false, "domainColor": "#000", "tickSize": 5, "labelPadding": 11, "labelFlush": false, "title": "log(W)", "titlePadding": 15}}}
    }
  ],
  "resolve": {"scale": {"x": "independent"}}
}
 ]
}
]
}
